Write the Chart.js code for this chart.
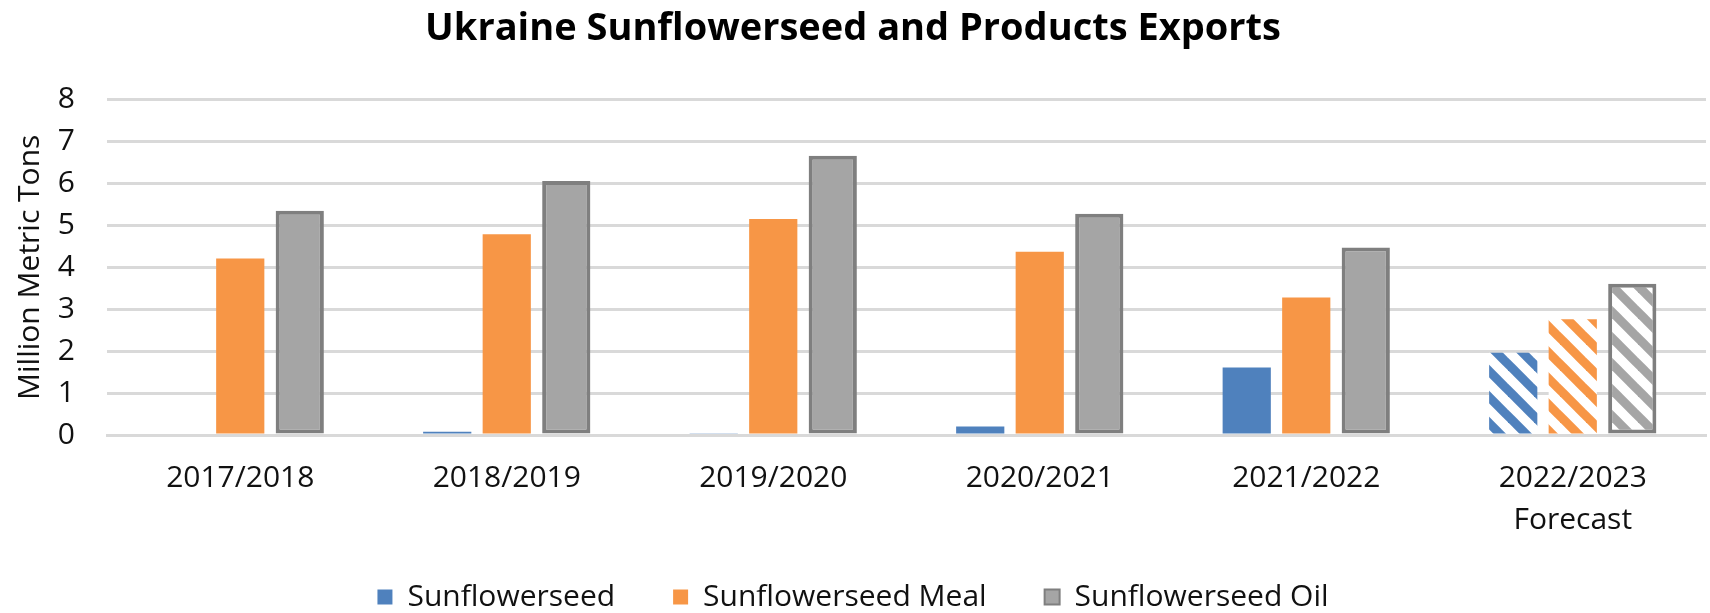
<!DOCTYPE html>
<html>
<head>
<meta charset="utf-8">
<title>Ukraine Sunflowerseed and Products Exports</title>
<script src="https://cdn.jsdelivr.net/npm/chart.js@4.4.1/dist/chart.umd.min.js"></script>
<style>
  html, body { margin: 0; padding: 0; background: #fff; overflow: hidden; }
</style>
</head>
<body>
<canvas id="myChart" width="1710" height="613"></canvas>
<script>
// data
const seasons = ['2017/2018', '2018/2019', '2019/2020', '2020/2021', '2021/2022', ['2022/2023', 'Forecast']];
const seedValues = [0, 0.08, 0.04, 0.2, 1.61, 1.96];
const mealValues = [4.21, 4.79, 5.15, 4.37, 3.28, 2.76];
const oilValues = [5.35, 6.06, 6.66, 5.28, 4.47, 3.61];
const yTicks = [0, 1, 2, 3, 4, 5, 6, 7, 8];

const blue = '#4f81bd';
const orange = '#f79646';
const gray = '#a5a5a5';
const grayEdge = '#7f7f7f';

// the forecast bars are hatched
function stripes(color) {
    const size = 26;
    const c = document.createElement('canvas');
    c.width = size;
    c.height = size;
    const g = c.getContext('2d');
    g.fillStyle = '#fff';
    g.fillRect(0, 0, size, size);
    g.strokeStyle = color;
    g.lineWidth = 9;
    for (const off of [-size, 0, size]) {
        g.beginPath();
        g.moveTo(off - 6, -6);
        g.lineTo(off + size + 6, size + 6);
        g.stroke();
    }
    return g.createPattern(c, 'repeat');
}

function colours(base, hatch) {
    return seasons.map((s, i) => i === seasons.length - 1 ? hatch : base);
}

Chart.defaults.font.family = "'Open Sans', sans-serif";
Chart.defaults.color = '#111';

const ctx = document.getElementById('myChart');

new Chart(ctx, {
    type: 'bar',
    data: {
        labels: seasons,
        datasets: [{
            label: 'Sunflowerseed',
            data: seedValues,
            backgroundColor: colours(blue, stripes(blue)),
            borderWidth: 0
        },
        {
            label: 'Sunflowerseed Meal',
            data: mealValues,
            backgroundColor: colours(orange, stripes(orange)),
            borderWidth: 0
        },
        {
            label: 'Sunflowerseed Oil',
            data: oilValues,
            backgroundColor: colours(gray, stripes(gray)),
            borderColor: grayEdge,
            borderWidth: 4,
            borderSkipped: false
        }
        ]
    },
    options: {
        responsive: false,
        animation: false,
        categoryPercentage: 0.67,
        barPercentage: 0.81,
        layout: {
            padding: { left: 0, right: 4, top: 0, bottom: -9 }
        },
        plugins: {
            title: {
                display: true,
                text: 'Ukraine Sunflowerseed and Products Exports',
                color: '#000',
                font: { size: 38, weight: 'bold' },
                padding: { top: 6, bottom: 48 }
            },
            legend: {
                position: 'bottom',
                labels: {
                    boxWidth: 15,
                    boxHeight: 15,
                    padding: 58,
                    font: { size: 30 },
                    generateLabels(chart) {
                        const items = Chart.defaults.plugins.legend.labels.generateLabels(chart);
                        items.forEach(it => { if (it.lineWidth) it.lineWidth = 2; });
                        return items;
                    }
                }
            },
            tooltip: { enabled: false }
        },
        scales: {
            x: {
                grid: { display: false },
                border: { display: true, color: '#d9d9d9', width: 3 },
                ticks: {
                    font: { size: 30, lineHeight: 1.42 },
                    padding: 14,
                    maxRotation: 0
                },
                afterFit(scale) {
                    scale.height = 89;
                    // the second line of the last label runs past the axis box, so no clipping
                    scale._computeLabelArea = () => undefined;
                }
            },
            y: {
                min: 0,
                max: 8,
                border: { display: false },
                grid: { color: '#d9d9d9', lineWidth: 3, drawTicks: false },
                afterBuildTicks(scale) {
                    scale.ticks = yTicks.map(v => ({ value: v }));
                },
                ticks: {
                    font: { size: 30 },
                    padding: 32
                },
                title: {
                    display: true,
                    text: 'Million Metric Tons',
                    font: { size: 30 },
                    padding: { top: 12, bottom: 0 }
                },
                afterFit(scale) {
                    scale.width = 107;
                }
            }
        }
    }
});
</script>
</body>
</html>
